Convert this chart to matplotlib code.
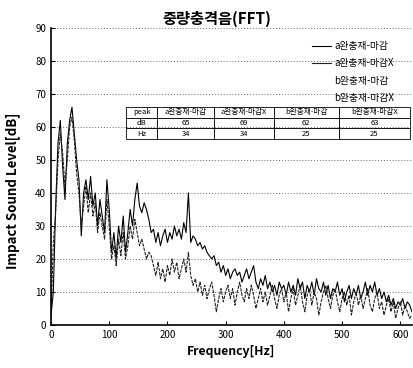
import matplotlib.pyplot as plt
from matplotlib.lines import Line2D

plt.rcParams['font.family'] = ['Noto Sans CJK KR', 'DejaVu Sans']

freq_step = 4
# a완충재-마감 (solid, upper curve above 150 Hz)
level_a = [3, 10, 36, 55, 62, 48, 38, 55, 62, 66, 58, 50, 44, 27, 40, 44,
           38, 45, 36, 40, 30, 38, 33, 28, 44, 35, 22, 28, 20, 30, 25, 33,
           22, 28, 35, 30, 38, 43, 36, 34, 37, 35, 32, 28, 29, 25, 28, 24,
           27, 29, 25, 28, 26, 30, 27, 29, 26, 31, 28, 40, 25, 27, 26, 24,
           25, 23, 24, 22, 21, 20, 21, 18, 19, 16, 18, 15, 17, 14, 16, 17,
           15, 16, 13, 15, 17, 14, 16, 18, 13, 11, 14, 12, 15, 11, 13, 10,
           12, 9, 13, 11, 12, 9, 13, 10, 12, 9, 14, 11, 13, 8, 12, 10,
           13, 9, 14, 11, 10, 13, 9, 12, 8, 11, 10, 13, 9, 11, 7, 10,
           12, 8, 11, 9, 12, 8, 10, 13, 9, 12, 10, 13, 9, 11, 8, 10,
           7, 9, 6, 8, 5, 7, 6, 8, 5, 7, 6, 4]
# a완충재-마감X (dashed, lower curve)
level_b = [2, 25, 34, 50, 58, 52, 42, 50, 60, 63, 56, 46, 40, 30, 36, 42,
           34, 40, 33, 37, 28, 34, 30, 26, 38, 30, 20, 24, 18, 26, 21, 28,
           20, 24, 30, 26, 32, 28, 24, 26, 23, 20, 22, 21, 18, 15, 19, 14,
           17, 13, 18, 15, 20, 16, 19, 14, 17, 20, 16, 22, 15, 12, 14, 10,
           13, 9, 12, 8, 11, 13, 9, 4, 8, 11, 7, 10, 12, 8, 11, 6,
           10, 13, 9, 7, 11, 8, 12, 9, 5, 8, 11, 7, 10, 6, 9, 12,
           8, 5, 9, 11, 7, 10, 4, 8, 11, 6, 9, 12, 7, 4, 9, 11,
           6, 10, 8, 3, 7, 10, 12, 8, 5, 9, 11, 7, 4, 8, 10, 6,
           9, 3, 7, 10, 6, 9, 5, 8, 11, 6, 4, 8, 10, 5, 7, 3,
           6, 8, 4, 7, 2, 5, 7, 3, 6, 4, 2, 3]
freq_a = [i * freq_step for i in range(len(level_a))]
freq_b = [i * freq_step for i in range(len(level_b))]

series_names = ['a완충재-마감', 'a완충재-마감X', 'b완충재-마감', 'b완충재-마감X']
peak_db = [65, 69, 62, 63]
peak_hz = [34, 34, 25, 25]

fig = plt.figure(figsize=(4.13, 3.68), dpi=100)
ax = fig.add_axes([0.1235, 0.117, 0.874, 0.807])

ax.plot(freq_a, level_a, color='black', linewidth=0.8)
ax.plot(freq_b, level_b, color='#222222', linewidth=0.8, linestyle=(0, (3, 1)))

ax.set_xlim(0, 620)
ax.set_ylim(0, 90)
ax.set_xticks(range(0, 601, 100))
ax.set_yticks(range(0, 91, 10))
ax.tick_params(direction='in', labelsize=7, length=3)
ax.grid(axis='y', linestyle=(0, (1, 2)), color='#666666', linewidth=0.7)
for s in ['top', 'right']:
    ax.spines[s].set_visible(False)
ax.spines['left'].set_linewidth(1.2)
ax.spines['bottom'].set_linewidth(1.2)

ax.set_title('중량충격음(FFT)', fontsize=11, fontweight='bold', pad=3, x=0.46)
ax.set_xlabel('Frequency[Hz]', fontsize=8.8, fontweight='bold')
ax.set_ylabel('Impact Sound Level[dB]', fontsize=9.5, fontweight='bold')
ax.yaxis.set_label_coords(-0.085, 0.45)

handles = [Line2D([], [], color='black', linewidth=0.8),
           Line2D([], [], color='#222222', linewidth=0.8),
           Line2D([], [], linestyle='none'),
           Line2D([], [], linestyle='none')]
ax.legend(handles, series_names, loc='upper right', bbox_to_anchor=(0.975, 0.985),
          frameon=False, fontsize=7, handlelength=2.0, labelspacing=0.75,
          handletextpad=0.3)

cell_text = [['peak'] + series_names,
             ['dB'] + [str(v) for v in peak_db],
             ['Hz'] + [str(v) for v in peak_hz]]
tbl = ax.table(cellText=cell_text, colWidths=[0.11, 0.2, 0.21, 0.23, 0.25],
               bbox=[0.208, 0.626, 0.786, 0.108], cellLoc='center')
tbl.auto_set_font_size(False)
tbl.set_fontsize(5.5)
for (r, c), cell in tbl.get_celld().items():
    cell.set_facecolor('white')
    cell.set_linewidth(0.6)

fig.savefig('out.png', dpi=100)
